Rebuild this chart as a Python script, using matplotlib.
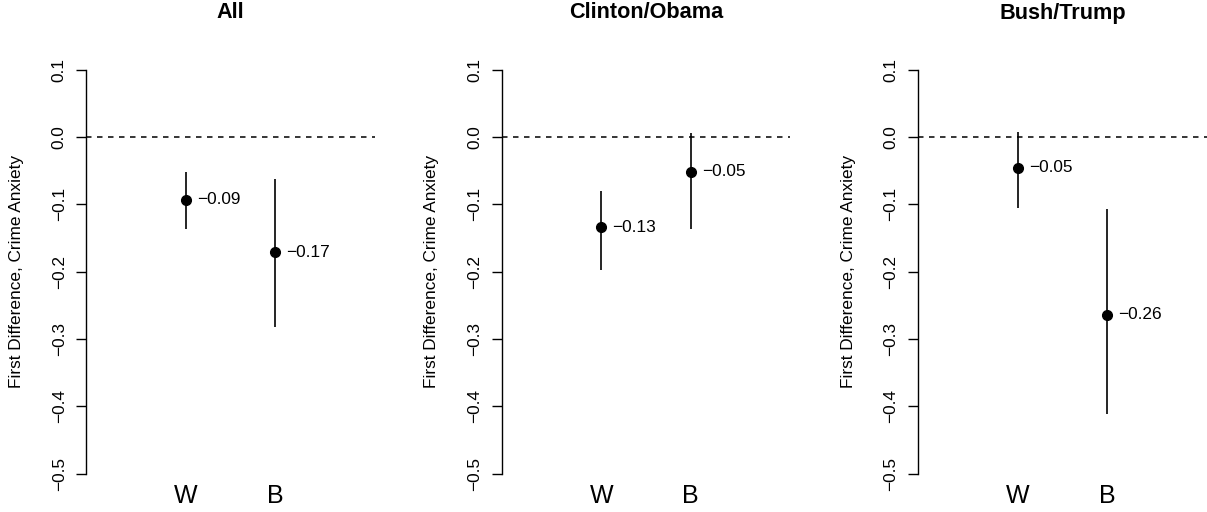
import matplotlib
matplotlib.use("Agg")
import matplotlib.pyplot as plt

# first differences and 95% intervals
panels = ["All", "Clinton/Obama", "Bush/Trump"]
groups = ["W", "B"]
est = [[-0.093, -0.171], [-0.134, -0.052], [-0.046, -0.264]]
lower = [[-0.136, -0.283], [-0.197, -0.137], [-0.106, -0.412]]
upper = [[-0.052, -0.063], [-0.080, 0.006], [0.007, -0.107]]
yticks = [-0.5, -0.4, -0.3, -0.2, -0.1, 0.0, 0.1]

plt.rcParams['font.family'] = ['Liberation Sans', 'DejaVu Sans']

W, H = 1207, 512
fig = plt.figure(figsize=(W / 100, H / 100), dpi=100)

xpos = [1, 2]
panel_left = [86.3, 501.7, 918.0]   # pixel x of each plot region
for i, name in enumerate(panels):
    left = panel_left[i] / W
    width = 288.7 / W
    ax = fig.add_axes([left, 1 - 489.7 / H, width, (489.7 - 53.5) / H])
    ax.set_xlim(-0.12, 3.12)
    ax.set_ylim(-0.524, 0.124)

    ax.axhline(0, color='black', lw=1.1, ls=(0, (3.6, 3.6)))
    for j in range(2):
        ax.plot([xpos[j], xpos[j]], [lower[i][j], upper[i][j]], color='black', lw=1.2,
                solid_capstyle='butt')
        ax.plot(xpos[j], est[i][j], 'o', color='black', ms=7)
        ax.annotate(f"{est[i][j]:.2f}".replace('-', '\u2212'), (xpos[j], est[i][j]),
                    xytext=(8, 0), textcoords='offset points', va='center', ha='left',
                    fontsize=12.4)
        ax.text(xpos[j], -0.534, groups[j], ha='center', va='center', fontsize=18,
                clip_on=False)

    for s in ['top', 'right', 'bottom']:
        ax.spines[s].set_visible(False)
    ax.spines['left'].set_bounds(-0.5, 0.1)
    ax.spines['left'].set_linewidth(1.0)
    ax.set_xticks([])
    ax.set_yticks(yticks)
    ax.set_yticklabels([f"{t:.1f}".replace('-', '\u2212') for t in yticks],
                       rotation=90, va='center', fontsize=12.4)
    ax.tick_params(axis='y', length=7, width=1.0, pad=7)
    ax.set_ylabel("First Difference, Crime Anxiety", fontsize=12.4, labelpad=20)

    fig.text(left + width / 2, 1 - 13 / H, name, ha='center', va='center',
             fontsize=15.6, fontweight='bold')

fig.savefig("out.png", dpi=100)
